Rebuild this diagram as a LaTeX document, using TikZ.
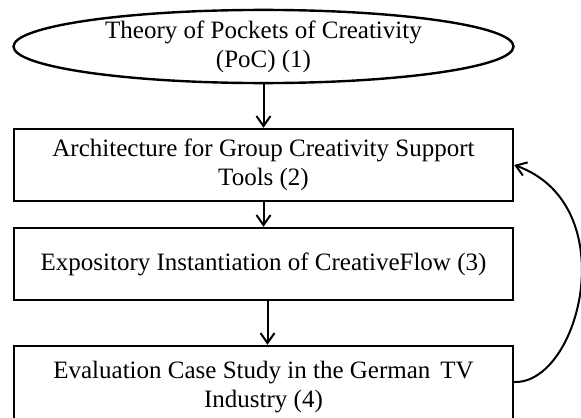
\documentclass[tikz,border=0pt]{standalone}
\usepackage{fontspec}
\setmainfont{Liberation Serif}
\usetikzlibrary{shapes.geometric,arrows.meta}
\begin{document}
\begin{tikzpicture}[x=0.5pt,y=-0.5pt,
  txt/.style={align=center,font=\fontsize{12.5}{14.4}\selectfont},
  box/.style={txt,draw,line width=1.2pt,rectangle,minimum width=249.5pt,minimum height=36pt,inner sep=0pt},
  oval/.style={txt,draw,line width=1.2pt,ellipse,minimum width=250pt,minimum height=36.5pt,inner sep=0pt},
  flow/.style={line width=1pt,-{Straight Barb[length=5pt,width=7pt]}}]
\useasboundingbox (0,0) rectangle (581,417);
\clip (0,0) rectangle (581,417);
\node[oval] (e) at (263.5,46.5) {Theory of Pockets of Creativity\\(PoC) (1)};
\node[box] (b2) at (263.5,165) {Architecture for Group Creativity Support\\Tools (2)};
\node[box] (b3) at (263.5,264) {Expository Instantiation of CreativeFlow (3)};
\node[box,minimum height=41pt] (b4) at (263.5,387) {Evaluation Case Study in the German\hspace{0.4em}TV\\Industry (4)};
\draw[flow] (e.south) -- (b2.north);
\draw[flow] (b2.south) -- (b3.north);
\draw[flow] ([xshift=2pt]b3.south) -- ([xshift=2pt]b4.north);
\draw[flow] ([yshift=2.5pt]b4.east) .. controls (580,384) and (625,205) .. (b2.east);
\end{tikzpicture}
\end{document}
